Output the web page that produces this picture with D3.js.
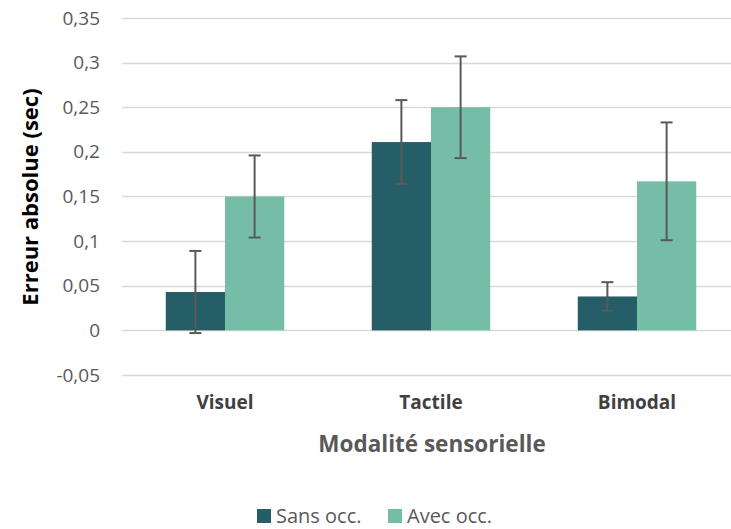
<!DOCTYPE html>
<html><head><meta charset="utf-8">
<script src="https://cdn.jsdelivr.net/npm/d3@7/dist/d3.min.js"></script>
<style>body{margin:0;background:#fff}svg{display:block}text{font-family:"Open Sans",Calibri,sans-serif}</style>
</head><body>
<svg id="c" width="731" height="529"></svg>
<script>
const categories = ["Visuel", "Tactile", "Bimodal"];
const seriesNames = ["Sans occ.", "Avec occ."];
const sansOcc = [0.043, 0.211, 0.038];
const avecOcc = [0.150, 0.250, 0.167];
const sansErr = [0.046, 0.047, 0.016];
const avecErr = [0.046, 0.057, 0.066];
const yTicks = [-0.05, 0, 0.05, 0.1, 0.15, 0.2, 0.25, 0.3, 0.35];
const colors = ["#255E66", "#75BDA7"];

const svg = d3.select("#c");
const x = d3.scaleBand().domain(categories).range([122, 740]).paddingInner(0.425).paddingOuter(0.2125);
const x1 = d3.scaleBand().domain(seriesNames).range([0, x.bandwidth()]);
const y = d3.scaleLinear().domain([-0.05, 0.35]).range([375, 18]);

const fmt = v => String(+v.toFixed(2)).replace(".", ",");

// gridlines
svg.append("g").selectAll("line").data(yTicks).join("line")
  .attr("x1", 122).attr("x2", 731)
  .attr("y1", d => Math.round(y(d)) + 0.5).attr("y2", d => Math.round(y(d)) + 0.5)
  .attr("stroke", "#d9d9d9").attr("stroke-width", 1.3);

// y axis labels
const yAxis = d3.axisLeft(y).tickValues(yTicks).tickFormat(fmt).tickSize(0).tickPadding(0);
const ga = svg.append("g").attr("transform", "translate(100,0)").call(yAxis);
ga.select(".domain").remove();
ga.selectAll("text").attr("font-size", 19).attr("fill", "#595959").attr("font-family", "'Open Sans',sans-serif");

const data = [sansOcc, avecOcc];
const errs = [sansErr, avecErr];
seriesNames.forEach((s, si) => {
  const g = svg.append("g");
  g.selectAll("rect").data(categories).join("rect")
    .attr("x", c => x(c) + x1(s))
    .attr("width", x1.bandwidth())
    .attr("y", (c, i) => y(Math.max(0, data[si][i])))
    .attr("height", (c, i) => Math.abs(y(data[si][i]) - y(0)))
    .attr("fill", colors[si]);
});
seriesNames.forEach((s, si) => {
  const g = svg.append("g").attr("stroke", "#595959").attr("stroke-width", 2);
  categories.forEach((c, i) => {
    const cx = x(c) + x1(s) + x1.bandwidth() / 2;
    const hi = y(data[si][i] + errs[si][i]), lo = y(data[si][i] - errs[si][i]);
    g.append("line").attr("x1", cx).attr("x2", cx).attr("y1", hi).attr("y2", lo);
    g.append("line").attr("x1", cx - 6).attr("x2", cx + 6).attr("y1", hi).attr("y2", hi);
    g.append("line").attr("x1", cx - 6).attr("x2", cx + 6).attr("y1", lo).attr("y2", lo);
  });
});

// x category labels
const xAxis = d3.axisBottom(x).tickSize(0).tickPadding(0);
const gx = svg.append("g").attr("transform", "translate(0,395)").call(xAxis);
gx.select(".domain").remove();
gx.selectAll("text").attr("font-size", 19).attr("font-weight", "bold").attr("fill", "#404040")
  .attr("dy", "0.71em").attr("font-family", "'Open Sans',sans-serif");

// axis titles
svg.append("text").attr("x", 432).attr("y", 452).attr("text-anchor", "middle")
  .attr("font-size", 22.5).attr("font-weight", "bold").attr("fill", "#595959").text("Modalité sensorielle");
svg.append("text").attr("transform", "translate(38,197) rotate(-90)").attr("text-anchor", "middle")
  .attr("font-size", 22).attr("font-weight", "bold").attr("fill", "#000").text("Erreur absolue (sec)");

// legend
const leg = svg.append("g");
const legX = [257, 388];
seriesNames.forEach((s, i) => {
  leg.append("rect").attr("x", legX[i]).attr("y", 509).attr("width", 14).attr("height", 14).attr("fill", colors[i]);
  leg.append("text").attr("x", legX[i] + 19).attr("y", 523).attr("font-size", 20).attr("fill", "#595959").text(s);
});
</script>
</body></html>
